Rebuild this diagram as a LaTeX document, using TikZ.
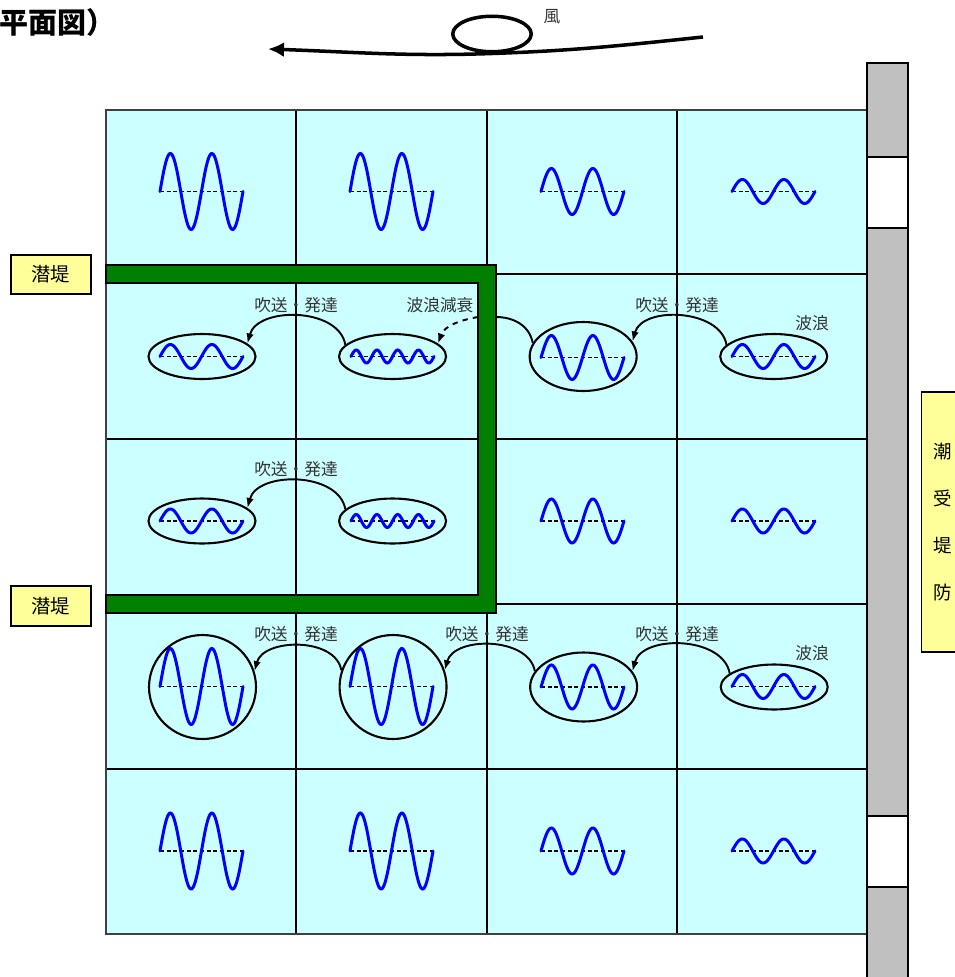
\documentclass[tikz,border=0pt]{standalone}
\usepackage{fontspec}
\newfontfamily\jp{Noto Sans CJK JP}
\usepackage{xcolor}
\usepackage{tikz}
\usetikzlibrary{shapes.geometric, arrows.meta, positioning}

\definecolor{seacyan}{HTML}{CCFFFF}
\definecolor{dikegreen}{HTML}{008000}
\definecolor{wallgray}{HTML}{C0C0C0}
\definecolor{labelyellow}{HTML}{FFFF99}

% wave: start x, baseline y, amplitude, periods
\newcommand{\wavepic}[4]{%
  \draw[dashline] (#1,-#2) -- ++(83,0);
  \draw[waveline] plot[domain=0:83, samples=90, smooth] ({#1+\x},{-#2+#3*sin(#4*4.33735*\x)});
}

\begin{document}
\begin{tikzpicture}[x=0.02cm, y=0.02cm, font=\jp]
\tikzstyle{gridline}=[draw=black, line width=0.6pt]
\tikzstyle{waveline}=[draw=blue, line width=1.7pt, line cap=round]
\tikzstyle{dashline}=[draw=black, line width=0.6pt, dash pattern=on 2.2pt off 1.6pt]
\tikzstyle{smallell}=[ellipse, draw, line width=1.2pt, minimum width=2.14cm, minimum height=0.9cm, inner sep=0pt]
\tikzstyle{midell}=[smallell, minimum height=1.38cm]
\tikzstyle{bigell}=[smallell, minimum height=2.08cm]
\tikzstyle{blowarrow}=[draw, line width=1.1pt, -{Latex[length=0.2cm, width=0.15cm]}]
\tikzstyle{tag}=[font={\jp\fontsize{9.5}{11}\selectfont}, text=black!80, inner sep=0pt]
\tikzstyle{dikelabel}=[draw, fill=labelyellow, line width=0.9pt, minimum width=1.61cm, minimum height=0.79cm, font={\jp\fontsize{11}{13}\selectfont}]

\useasboundingbox (0,0) rectangle (954,-977);

% title and wind
\node[anchor=west, inner sep=0pt, font={\jp\bfseries\fontsize{16.5}{19}\selectfont}] (title) at (-1,-22) {平面図）};
\node[ellipse, draw, line width=2pt, minimum width=1.57cm, minimum height=0.71cm, inner sep=0pt] (loop) at (492,-34) {};
\coordinate (windR) at (703,-37);
\coordinate (windL) at (268,-49);
\draw[line width=2pt, -{Latex[length=0.32cm, width=0.3cm]}] (windR) to[out=186,in=2] (loop.south) to[out=182,in=-2] (windL);
\node[tag] (wind) at (552,-17) {風};

% sea area
\fill[seacyan] (106,-110) rectangle (867,-934);
\foreach \gx in {296,487,677} \draw[gridline] (\gx,-110) -- (\gx,-934);
\foreach \gy in {274,439,604,769} \draw[gridline] (106,-\gy) -- (867,-\gy);
\draw[draw=black!75, line width=0.9pt] (106,-110) rectangle (867,-934);

% sea wall
\filldraw[fill=wallgray, draw=black, line width=0.8pt] (867,-63) rectangle (908,-990);
\filldraw[fill=white, draw=black, line width=0.8pt] (867,-157) rectangle (908,-228);
\filldraw[fill=white, draw=black, line width=0.8pt] (867,-816) rectangle (908,-887);

% submerged dike
\filldraw[fill=dikegreen, draw=black, line width=0.6pt] (106,-265) -- (496,-265) -- (496,-613) -- (106,-613) -- (106,-595) -- (478,-595) -- (478,-283) -- (106,-283) -- cycle;
\coordinate (gin) at (478,-317);
\coordinate (gout) at (496,-317);

% waves
\foreach \wx/\wy/\wa/\wn in {160/191.5/38/2, 350/191.5/38/2, 541/191.5/23/2, 732/191.5/12/2,
  160/356.5/12/2, 351/356.5/6.5/4, 541/357.5/22/2, 732/356.5/12/2,
  160/521/12/2, 351/521/6.5/4, 541/521/22/2, 732/521/12/2,
  160/686.5/38/2, 350/686.5/38/2, 541/687/22/2, 732/686.5/12/2,
  160/851/38/2, 350/851/38/2, 541/851/23/2, 732/851/12/2}
  {\wavepic{\wx}{\wy}{\wa}{\wn}}

% ellipses
\node[smallell] (e21) at (202,-356.5) {};
\node[smallell, right=1.63cm of e21] (e22) {};
\node[midell, right=1.63cm of e22] (e23) {};
\node[smallell, right=1.63cm of e23] (e24) {};
\node[smallell] (e31) at (202,-521) {};
\node[smallell, right=1.63cm of e31] (e32) {};
\node[bigell] (e41) at (202.5,-687) {};
\node[bigell, right=1.63cm of e41] (e42) {};
\node[midell, right=1.63cm of e42] (e43) {};
\node[smallell, right=1.63cm of e43] (e44) {};

% growth arrows
\draw[blowarrow] (e22.166) to[out=100,in=75] (e21.16);
\draw[blowarrow] (e32.166) to[out=100,in=75] (e31.16);
\draw[blowarrow] (e24.166) to[out=100,in=75] (e23.17);
\draw[blowarrow] (e42.162) to[out=100,in=75] (e41.17);
\draw[blowarrow] (e43.162) to[out=100,in=75] (e42.18);
\draw[blowarrow] (e44.163) to[out=100,in=75] (e43.18);
\draw[blowarrow, dashed] (gin) to[out=190,in=70] (e22.16);
\draw[line width=1.1pt] (e23.165) to[out=100,in=0] (gout);

% labels
\node[tag] (t21) at (296,-305) {吹送・発達};
\node[tag] (t22) at (440,-305) {波浪減衰};
\node[tag] (t23) at (677,-305) {吹送・発達};
\node[tag] (t24) at (812,-323) {波浪};
\node[tag] (t31) at (296,-469) {吹送・発達};
\node[tag] (t41) at (296,-634) {吹送・発達};
\node[tag] (t42) at (487,-634) {吹送・発達};
\node[tag] (t43) at (677,-634) {吹送・発達};
\node[tag] (t44) at (812,-653) {波浪};

\node[dikelabel] (sub1) at (51,-274.5) {潜堤};
\node[dikelabel] (sub2) at (51,-606) {潜堤};
\node[draw, fill=labelyellow, line width=0.9pt, minimum width=0.86cm, minimum height=5.2cm, align=center, font={\jp\fontsize{10.5}{26.6}\selectfont}] (wall) at (943,-522) {潮\\受\\堤\\防};
\end{tikzpicture}
\end{document}
